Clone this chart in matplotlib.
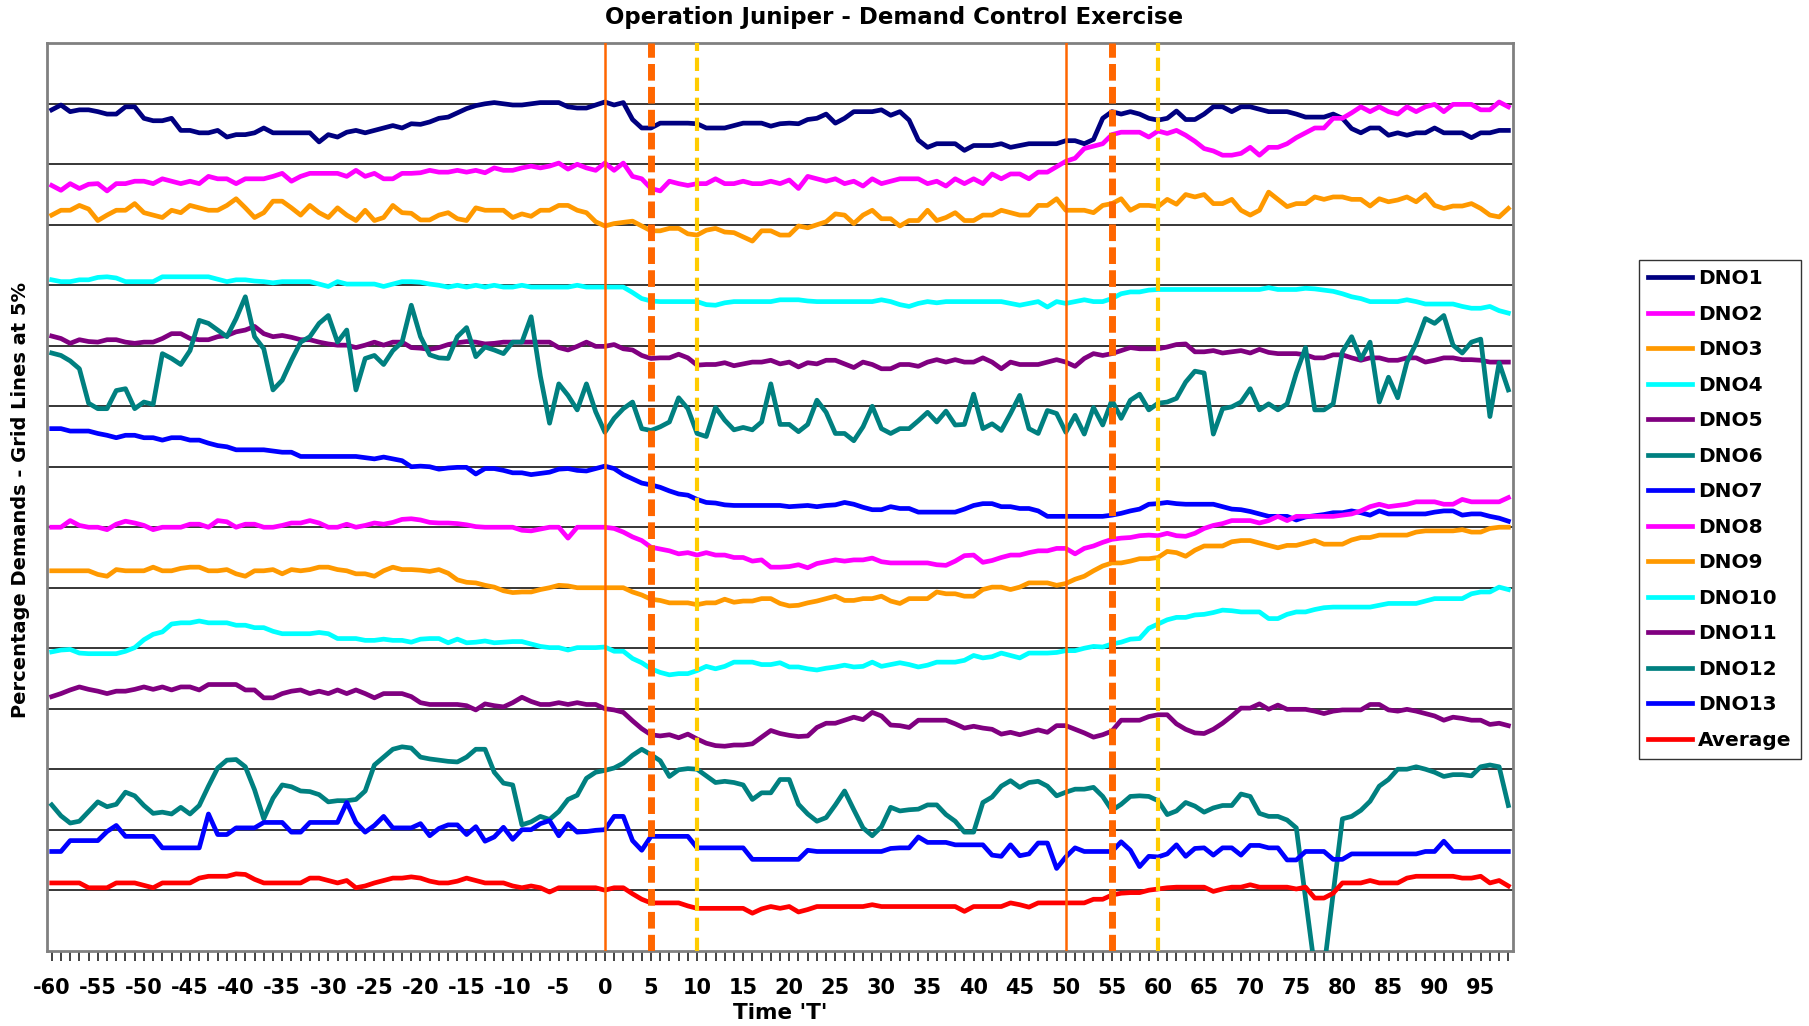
import matplotlib
matplotlib.use('Agg')
import matplotlib.pyplot as plt
import numpy as np

plt.rcParams['font.family'] = ['DejaVu Sans']

# time axis, minutes relative to T
time_t = np.arange(-60, 99)

# demand traces in grid units (1 unit = 5%)
dno1 = [13.9, 13.98, 13.87, 13.9, 13.9, 13.87, 13.83, 13.83, 13.95, 13.95,
        13.76, 13.72, 13.72, 13.76, 13.56, 13.56, 13.52, 13.52, 13.56, 13.45,
        13.49, 13.49, 13.52, 13.6, 13.52, 13.52, 13.52, 13.52, 13.52, 13.37,
        13.49, 13.45, 13.53, 13.56, 13.52, 13.56, 13.6, 13.64, 13.6, 13.67,
        13.66, 13.7, 13.76, 13.78, 13.85, 13.92, 13.97, 14.0, 14.02, 14.0,
        13.98, 13.98, 14.0, 14.02, 14.02, 14.02, 13.95, 13.93, 13.93, 13.98,
        14.03, 13.98, 14.02, 13.74, 13.6, 13.6, 13.68, 13.68, 13.68, 13.68,
        13.67, 13.6, 13.6, 13.6, 13.64, 13.68, 13.68, 13.68, 13.63, 13.67,
        13.68, 13.67, 13.74, 13.76, 13.83, 13.68, 13.76, 13.87, 13.87, 13.87,
        13.9, 13.81, 13.87, 13.73, 13.4, 13.28, 13.34, 13.34, 13.34, 13.23,
        13.31, 13.31, 13.31, 13.34, 13.28, 13.31, 13.34, 13.34, 13.34, 13.34,
        13.39, 13.39, 13.34, 13.41, 13.76, 13.87, 13.83, 13.87, 13.83, 13.76,
        13.73, 13.76, 13.88, 13.74, 13.74, 13.83, 13.95, 13.95, 13.87, 13.95,
        13.95, 13.91, 13.87, 13.87, 13.87, 13.83, 13.78, 13.78, 13.78, 13.83,
        13.76, 13.59, 13.52, 13.6, 13.6, 13.48, 13.52, 13.48, 13.52, 13.52,
        13.6, 13.52, 13.52, 13.52, 13.44, 13.52, 13.52, 13.56, 13.56]
dno2 = [12.65, 12.57, 12.68, 12.6, 12.67, 12.68, 12.56, 12.68, 12.68, 12.72,
        12.72, 12.68, 12.76, 12.72, 12.68, 12.72, 12.68, 12.8, 12.76, 12.76,
        12.68, 12.76, 12.76, 12.76, 12.8, 12.85, 12.72, 12.8, 12.85, 12.85,
        12.85, 12.85, 12.8, 12.9, 12.8, 12.85, 12.76, 12.76, 12.85, 12.85,
        12.86, 12.9, 12.87, 12.87, 12.9, 12.87, 12.9, 12.86, 12.94, 12.9,
        12.9, 12.94, 12.97, 12.94, 12.97, 13.02, 12.92, 13.0, 12.94, 12.9,
        13.02, 12.9, 13.02, 12.8, 12.76, 12.6, 12.56, 12.72, 12.68, 12.65,
        12.68, 12.68, 12.76, 12.68, 12.68, 12.72, 12.68, 12.68, 12.72, 12.68,
        12.74, 12.6, 12.8, 12.76, 12.72, 12.76, 12.68, 12.72, 12.64, 12.76,
        12.68, 12.72, 12.76, 12.76, 12.76, 12.68, 12.72, 12.64, 12.76, 12.68,
        12.76, 12.68, 12.84, 12.76, 12.84, 12.84, 12.76, 12.87, 12.87, 12.96,
        13.05, 13.1, 13.26, 13.3, 13.34, 13.49, 13.53, 13.53, 13.53, 13.45,
        13.55, 13.51, 13.56, 13.48, 13.38, 13.26, 13.22, 13.15, 13.15, 13.18,
        13.28, 13.15, 13.28, 13.28, 13.34, 13.44, 13.52, 13.6, 13.6, 13.76,
        13.76, 13.85, 13.95, 13.87, 13.95, 13.87, 13.83, 13.95, 13.87, 13.95,
        13.99, 13.87, 13.99, 13.99, 13.99, 13.9, 13.9, 14.03, 13.95]
dno3 = [12.16, 12.24, 12.24, 12.32, 12.26, 12.07, 12.16, 12.24, 12.24, 12.35,
        12.2, 12.16, 12.12, 12.24, 12.2, 12.32, 12.28, 12.24, 12.24, 12.32,
        12.43, 12.28, 12.12, 12.2, 12.39, 12.39, 12.28, 12.16, 12.32, 12.2,
        12.12, 12.28, 12.16, 12.07, 12.24, 12.07, 12.12, 12.32, 12.2, 12.19,
        12.08, 12.08, 12.16, 12.2, 12.1, 12.07, 12.28, 12.24, 12.24, 12.24,
        12.12, 12.18, 12.14, 12.24, 12.24, 12.32, 12.32, 12.24, 12.2, 12.05,
        11.98, 12.02, 12.04, 12.06, 11.98, 11.9, 11.9, 11.94, 11.94, 11.85,
        11.83, 11.91, 11.94, 11.88, 11.87, 11.8, 11.73, 11.9, 11.9, 11.83,
        11.83, 11.98, 11.95, 12.0, 12.05, 12.18, 12.16, 12.02, 12.16, 12.24,
        12.1, 12.1, 11.98, 12.07, 12.07, 12.24, 12.07, 12.12, 12.2, 12.07,
        12.07, 12.16, 12.16, 12.24, 12.2, 12.16, 12.16, 12.32, 12.32, 12.43,
        12.24, 12.24, 12.24, 12.2, 12.32, 12.35, 12.43, 12.24, 12.32, 12.32,
        12.3, 12.42, 12.34, 12.5, 12.46, 12.5, 12.35, 12.35, 12.42, 12.24,
        12.16, 12.24, 12.54, 12.42, 12.3, 12.35, 12.35, 12.46, 12.42, 12.46,
        12.46, 12.42, 12.42, 12.31, 12.43, 12.38, 12.41, 12.46, 12.38, 12.5,
        12.32, 12.27, 12.31, 12.31, 12.35, 12.27, 12.16, 12.13, 12.27]
dno4 = [11.09, 11.06, 11.06, 11.09, 11.09, 11.13, 11.14, 11.12, 11.06, 11.06,
        11.06, 11.06, 11.14, 11.14, 11.14, 11.14, 11.14, 11.14, 11.1, 11.06,
        11.09, 11.09, 11.07, 11.06, 11.04, 11.06, 11.06, 11.06, 11.06, 11.02,
        10.98, 11.06, 11.02, 11.02, 11.02, 11.02, 10.98, 11.02, 11.06, 11.06,
        11.05, 11.02, 11.0, 10.97, 11.0, 10.97, 11.0, 10.97, 11.0, 10.97,
        10.97, 11.0, 10.97, 10.97, 10.97, 10.97, 10.97, 11.0, 10.97, 10.97,
        10.97, 10.97, 10.97, 10.88, 10.78, 10.74, 10.73, 10.73, 10.73, 10.73,
        10.73, 10.68, 10.67, 10.71, 10.73, 10.73, 10.73, 10.73, 10.73, 10.76,
        10.76, 10.76, 10.74, 10.73, 10.73, 10.73, 10.73, 10.73, 10.73, 10.73,
        10.76, 10.73, 10.68, 10.65, 10.7, 10.73, 10.71, 10.73, 10.73, 10.73,
        10.73, 10.73, 10.73, 10.73, 10.7, 10.67, 10.7, 10.73, 10.64, 10.73,
        10.7, 10.73, 10.76, 10.73, 10.73, 10.78, 10.86, 10.89, 10.89, 10.92,
        10.93, 10.93, 10.93, 10.93, 10.93, 10.93, 10.93, 10.93, 10.93, 10.93,
        10.93, 10.93, 10.96, 10.93, 10.93, 10.93, 10.95, 10.94, 10.92, 10.9,
        10.86, 10.81, 10.78, 10.73, 10.73, 10.73, 10.73, 10.76, 10.73, 10.69,
        10.69, 10.69, 10.69, 10.65, 10.62, 10.62, 10.65, 10.58, 10.54]
dno5 = [10.16, 10.12, 10.04, 10.1, 10.07, 10.06, 10.1, 10.1, 10.06, 10.04,
        10.06, 10.06, 10.12, 10.2, 10.2, 10.12, 10.1, 10.1, 10.15, 10.17,
        10.23, 10.26, 10.32, 10.2, 10.15, 10.17, 10.14, 10.1, 10.1, 10.06,
        10.03, 10.01, 10.01, 9.97, 10.01, 10.06, 10.01, 10.06, 10.06, 9.97,
        9.96, 9.94, 9.97, 10.02, 10.05, 10.07, 10.06, 10.03, 10.04, 10.06,
        10.06, 10.06, 10.06, 10.06, 10.06, 9.97, 9.93, 9.99, 10.06, 9.99,
        9.99, 10.02, 9.95, 9.93, 9.84, 9.79, 9.8, 9.8, 9.86, 9.8,
        9.68, 9.69, 9.69, 9.72, 9.67, 9.7, 9.73, 9.73, 9.76, 9.7,
        9.73, 9.65, 9.72, 9.7, 9.76, 9.76, 9.7, 9.64, 9.73, 9.69,
        9.62, 9.62, 9.69, 9.69, 9.66, 9.73, 9.77, 9.73, 9.77, 9.73,
        9.73, 9.8, 9.73, 9.62, 9.73, 9.69, 9.69, 9.69, 9.73, 9.77,
        9.73, 9.66, 9.79, 9.87, 9.84, 9.87, 9.92, 9.97, 9.95, 9.95,
        9.95, 9.98, 10.02, 10.03, 9.9, 9.9, 9.92, 9.88, 9.9, 9.92,
        9.88, 9.94, 9.89, 9.87, 9.87, 9.87, 9.85, 9.8, 9.8, 9.85,
        9.85, 9.8, 9.76, 9.8, 9.8, 9.76, 9.76, 9.8, 9.8, 9.73,
        9.76, 9.8, 9.8, 9.77, 9.77, 9.76, 9.73, 9.73, 9.73]
dno6 = [9.88, 9.84, 9.75, 9.62, 9.05, 8.96, 8.96, 9.26, 9.29, 8.96,
        9.07, 9.03, 9.87, 9.79, 9.69, 9.92, 10.42, 10.37, 10.26, 10.15,
        10.45, 10.81, 10.15, 9.95, 9.27, 9.43, 9.76, 10.06, 10.15, 10.37,
        10.5, 10.06, 10.26, 9.27, 9.79, 9.84, 9.69, 9.92, 10.06, 10.67,
        10.15, 9.85, 9.8, 9.79, 10.15, 10.3, 9.82, 9.98, 9.93, 9.87,
        10.06, 10.06, 10.48, 9.5, 8.72, 9.37, 9.18, 8.94, 9.37, 8.91,
        8.57, 8.8, 8.96, 9.07, 8.63, 8.6, 8.66, 8.74, 9.14, 8.96,
        8.55, 8.5, 8.98, 8.77, 8.61, 8.65, 8.61, 8.74, 9.37, 8.7,
        8.7, 8.58, 8.7, 9.1, 8.9, 8.55, 8.55, 8.43, 8.66, 9.0,
        8.63, 8.55, 8.63, 8.63, 8.76, 8.9, 8.74, 8.92, 8.69, 8.7,
        9.2, 8.63, 8.71, 8.6, 8.88, 9.18, 8.63, 8.55, 8.93, 8.88,
        8.57, 8.85, 8.54, 8.98, 8.69, 9.1, 8.8, 9.1, 9.2, 8.94,
        9.05, 9.07, 9.13, 9.4, 9.58, 9.55, 8.54, 8.96, 8.99, 9.07,
        9.29, 8.94, 9.04, 8.94, 9.04, 9.55, 9.97, 8.94, 8.94, 9.04,
        9.9, 10.15, 9.78, 10.06, 9.07, 9.48, 9.14, 9.73, 10.04, 10.45,
        10.37, 10.5, 10.01, 9.88, 10.06, 10.11, 8.83, 9.72, 9.27]
dno7 = [8.63, 8.63, 8.59, 8.59, 8.59, 8.55, 8.52, 8.48, 8.52, 8.52,
        8.48, 8.48, 8.44, 8.48, 8.48, 8.44, 8.44, 8.39, 8.35, 8.33,
        8.28, 8.28, 8.28, 8.28, 8.26, 8.24, 8.24, 8.17, 8.17, 8.17,
        8.17, 8.17, 8.17, 8.17, 8.15, 8.13, 8.16, 8.13, 8.1, 8.0,
        8.01, 8.0, 7.96, 7.98, 7.99, 7.99, 7.88, 7.97, 7.97, 7.94,
        7.9, 7.9, 7.87, 7.89, 7.91, 7.96, 7.97, 7.94, 7.93, 7.97,
        8.01, 7.97, 7.87, 7.8, 7.73, 7.7, 7.66, 7.6, 7.55, 7.53,
        7.46, 7.41, 7.4, 7.37, 7.36, 7.36, 7.36, 7.36, 7.36, 7.36,
        7.34, 7.35, 7.36, 7.34, 7.36, 7.37, 7.41, 7.38, 7.33, 7.29,
        7.29, 7.34, 7.31, 7.31, 7.25, 7.25, 7.25, 7.25, 7.25, 7.3,
        7.36, 7.39, 7.39, 7.34, 7.34, 7.31, 7.31, 7.27, 7.18, 7.18,
        7.18, 7.18, 7.18, 7.18, 7.18, 7.2, 7.23, 7.27, 7.3, 7.38,
        7.39, 7.41, 7.39, 7.38, 7.38, 7.38, 7.38, 7.34, 7.3, 7.29,
        7.26, 7.22, 7.18, 7.18, 7.18, 7.12, 7.17, 7.19, 7.21, 7.24,
        7.24, 7.27, 7.24, 7.2, 7.27, 7.22, 7.22, 7.22, 7.22, 7.22,
        7.25, 7.27, 7.27, 7.2, 7.22, 7.22, 7.18, 7.15, 7.1]
dno8 = [7.0, 7.0, 7.11, 7.03, 7.0, 7.0, 6.96, 7.05, 7.1, 7.07,
        7.03, 6.96, 7.0, 7.0, 7.0, 7.05, 7.05, 7.0, 7.11, 7.09,
        7.0, 7.05, 7.05, 7.0, 7.0, 7.03, 7.07, 7.07, 7.11, 7.07,
        7.0, 7.0, 7.05, 7.0, 7.03, 7.07, 7.05, 7.08, 7.13, 7.14,
        7.12, 7.08, 7.07, 7.07, 7.06, 7.04, 7.01, 7.0, 7.0, 7.0,
        7.0, 6.95, 6.94, 6.97, 7.0, 7.0, 6.82, 7.0, 7.0, 7.0,
        7.0, 6.98, 6.92, 6.84, 6.78, 6.67, 6.64, 6.61, 6.56, 6.58,
        6.54, 6.58, 6.54, 6.54, 6.5, 6.5, 6.44, 6.46, 6.34, 6.34,
        6.35, 6.38, 6.33, 6.4, 6.43, 6.46, 6.44, 6.46, 6.46, 6.49,
        6.43, 6.41, 6.41, 6.41, 6.41, 6.41, 6.38, 6.37, 6.44, 6.53,
        6.54, 6.42, 6.45, 6.5, 6.54, 6.54, 6.58, 6.61, 6.61, 6.65,
        6.65, 6.56, 6.65, 6.69, 6.75, 6.8, 6.82, 6.83, 6.86, 6.87,
        6.86, 6.9, 6.86, 6.85, 6.9, 6.98, 7.03, 7.06, 7.11, 7.11,
        7.11, 7.07, 7.11, 7.18, 7.11, 7.18, 7.18, 7.18, 7.18, 7.18,
        7.2, 7.22, 7.27, 7.34, 7.38, 7.34, 7.36, 7.38, 7.42, 7.42,
        7.42, 7.38, 7.38, 7.46, 7.42, 7.42, 7.42, 7.42, 7.49]
dno9 = [6.28, 6.28, 6.28, 6.28, 6.28, 6.22, 6.19, 6.3, 6.28, 6.28,
        6.28, 6.34, 6.28, 6.28, 6.32, 6.34, 6.34, 6.28, 6.28, 6.3,
        6.23, 6.19, 6.28, 6.28, 6.3, 6.23, 6.3, 6.28, 6.3, 6.34,
        6.34, 6.3, 6.28, 6.23, 6.23, 6.19, 6.28, 6.34, 6.3, 6.3,
        6.29, 6.27, 6.3, 6.24, 6.13, 6.09, 6.08, 6.04, 6.01, 5.95,
        5.92, 5.93, 5.93, 5.97, 6.0, 6.04, 6.03, 6.0, 6.0, 6.0,
        6.0, 6.0, 6.0, 5.93, 5.88, 5.81, 5.79, 5.75, 5.75, 5.75,
        5.72, 5.75, 5.75, 5.81, 5.76, 5.78, 5.78, 5.82, 5.82, 5.74,
        5.7, 5.71, 5.75, 5.78, 5.82, 5.86, 5.79, 5.79, 5.82, 5.82,
        5.86, 5.78, 5.74, 5.82, 5.82, 5.82, 5.93, 5.9, 5.9, 5.86,
        5.86, 5.97, 6.01, 6.01, 5.97, 6.01, 6.08, 6.08, 6.08, 6.04,
        6.07, 6.14, 6.19, 6.28, 6.36, 6.41, 6.41, 6.44, 6.48, 6.48,
        6.5, 6.6, 6.58, 6.52, 6.62, 6.69, 6.69, 6.69, 6.76, 6.78,
        6.78, 6.74, 6.7, 6.66, 6.7, 6.7, 6.74, 6.78, 6.72, 6.72,
        6.72, 6.79, 6.83, 6.83, 6.87, 6.87, 6.87, 6.87, 6.92, 6.94,
        6.94, 6.94, 6.94, 6.96, 6.92, 6.92, 6.98, 7.0, 7.0]
dno10 = [4.94, 4.97, 4.98, 4.92, 4.91, 4.91, 4.91, 4.91, 4.95, 5.01,
         5.14, 5.23, 5.27, 5.4, 5.42, 5.42, 5.45, 5.42, 5.42, 5.42,
         5.38, 5.38, 5.34, 5.34, 5.28, 5.24, 5.24, 5.24, 5.24, 5.26,
         5.24, 5.16, 5.16, 5.16, 5.13, 5.13, 5.15, 5.13, 5.13, 5.1,
         5.15, 5.16, 5.16, 5.09, 5.15, 5.09, 5.1, 5.12, 5.09, 5.1,
         5.11, 5.11, 5.07, 5.03, 5.01, 5.01, 4.97, 5.01, 5.01, 5.01,
         5.02, 4.95, 4.95, 4.83, 4.76, 4.66, 4.6, 4.56, 4.58, 4.58,
         4.63, 4.7, 4.66, 4.7, 4.77, 4.77, 4.77, 4.73, 4.73, 4.76,
         4.69, 4.69, 4.66, 4.64, 4.67, 4.69, 4.72, 4.69, 4.7, 4.77,
         4.7, 4.73, 4.76, 4.73, 4.69, 4.72, 4.77, 4.77, 4.77, 4.8,
         4.88, 4.84, 4.86, 4.92, 4.88, 4.84, 4.92, 4.92, 4.92, 4.93,
         4.96, 4.96, 5.0, 5.03, 5.02, 5.07, 5.1, 5.15, 5.16, 5.33,
         5.4, 5.47, 5.51, 5.51, 5.55, 5.56, 5.59, 5.63, 5.62, 5.6,
         5.6, 5.6, 5.49, 5.49, 5.56, 5.6, 5.6, 5.64, 5.67, 5.68,
         5.68, 5.68, 5.68, 5.68, 5.71, 5.74, 5.74, 5.74, 5.74, 5.78,
         5.82, 5.82, 5.82, 5.82, 5.9, 5.93, 5.93, 6.01, 5.97]
dno11 = [4.2, 4.25, 4.31, 4.36, 4.32, 4.29, 4.25, 4.29, 4.29, 4.32,
         4.36, 4.32, 4.36, 4.31, 4.36, 4.36, 4.31, 4.4, 4.4, 4.4,
         4.4, 4.31, 4.31, 4.18, 4.18, 4.25, 4.29, 4.31, 4.25, 4.29,
         4.25, 4.31, 4.25, 4.31, 4.25, 4.18, 4.25, 4.25, 4.25, 4.2,
         4.1, 4.07, 4.07, 4.07, 4.07, 4.05, 3.98, 4.08, 4.05, 4.03,
         4.1, 4.19, 4.12, 4.07, 4.07, 4.1, 4.07, 4.1, 4.07, 4.07,
         4.0, 3.98, 3.94, 3.8, 3.67, 3.57, 3.55, 3.57, 3.52, 3.58,
         3.5, 3.43, 3.39, 3.38, 3.4, 3.4, 3.42, 3.53, 3.64, 3.59,
         3.56, 3.54, 3.55, 3.69, 3.76, 3.76, 3.81, 3.86, 3.82, 3.94,
         3.88, 3.73, 3.72, 3.69, 3.81, 3.81, 3.81, 3.81, 3.75, 3.68,
         3.71, 3.68, 3.66, 3.58, 3.61, 3.57, 3.61, 3.65, 3.61, 3.72,
         3.72, 3.66, 3.6, 3.53, 3.57, 3.63, 3.81, 3.81, 3.81, 3.87,
         3.9, 3.9, 3.75, 3.66, 3.6, 3.59, 3.66, 3.76, 3.88, 4.01,
         4.01, 4.08, 3.99, 4.06, 3.99, 3.99, 3.99, 3.96, 3.92, 3.96,
         3.98, 3.98, 3.98, 4.07, 4.07, 3.98, 3.96, 3.99, 3.96, 3.92,
         3.88, 3.81, 3.86, 3.84, 3.81, 3.81, 3.74, 3.76, 3.72]
dno12 = [2.41, 2.23, 2.11, 2.14, 2.3, 2.46, 2.38, 2.42, 2.62, 2.56,
         2.4, 2.27, 2.29, 2.26, 2.37, 2.26, 2.4, 2.72, 3.02, 3.15,
         3.16, 3.04, 2.66, 2.18, 2.52, 2.74, 2.71, 2.64, 2.63, 2.58,
         2.46, 2.48, 2.48, 2.5, 2.64, 3.07, 3.2, 3.33, 3.37, 3.35,
         3.2, 3.17, 3.15, 3.13, 3.12, 3.2, 3.33, 3.33, 2.95, 2.77,
         2.74, 2.08, 2.13, 2.22, 2.17, 2.3, 2.5, 2.57, 2.85, 2.95,
         2.98, 3.02, 3.1, 3.23, 3.33, 3.24, 3.14, 2.88, 2.99, 3.01,
         3.0, 2.89, 2.78, 2.8, 2.78, 2.74, 2.5, 2.61, 2.61, 2.83,
         2.83, 2.42, 2.26, 2.14, 2.2, 2.41, 2.64, 2.33, 2.03, 1.9,
         2.05, 2.37, 2.31, 2.33, 2.34, 2.41, 2.41, 2.25, 2.14, 1.96,
         1.96, 2.45, 2.54, 2.72, 2.81, 2.7, 2.78, 2.8, 2.72, 2.56,
         2.62, 2.67, 2.67, 2.7, 2.55, 2.32, 2.42, 2.55, 2.56, 2.55,
         2.48, 2.25, 2.31, 2.45, 2.39, 2.29, 2.36, 2.4, 2.4, 2.59,
         2.55, 2.27, 2.22, 2.22, 2.16, 2.03, 0.86, -0.3, -0.3, 0.95,
         2.18, 2.22, 2.32, 2.47, 2.72, 2.83, 3.0, 3.0, 3.04, 3.0,
         2.95, 2.88, 2.91, 2.91, 2.89, 3.04, 3.07, 3.04, 2.4]
dno13 = [1.64, 1.64, 1.82, 1.82, 1.82, 1.82, 1.97, 2.07, 1.89, 1.89,
         1.89, 1.89, 1.7, 1.7, 1.7, 1.7, 1.7, 2.26, 1.92, 1.92,
         2.03, 2.03, 2.03, 2.12, 2.12, 2.12, 1.96, 1.96, 2.12, 2.12,
         2.12, 2.12, 2.45, 2.12, 1.96, 2.07, 2.22, 2.03, 2.03, 2.03,
         2.1, 1.9, 2.02, 2.08, 2.08, 1.92, 2.05, 1.81, 1.88, 2.04,
         1.84, 2.0, 2.0, 2.1, 2.15, 1.9, 2.1, 1.96, 1.97, 1.99,
         2.0, 2.22, 2.22, 1.82, 1.66, 1.89, 1.89, 1.89, 1.89, 1.89,
         1.7, 1.7, 1.7, 1.7, 1.7, 1.7, 1.51, 1.51, 1.51, 1.51,
         1.51, 1.51, 1.66, 1.64, 1.64, 1.64, 1.64, 1.64, 1.64, 1.64,
         1.64, 1.69, 1.7, 1.7, 1.88, 1.79, 1.79, 1.79, 1.75, 1.75,
         1.75, 1.75, 1.58, 1.56, 1.75, 1.57, 1.6, 1.78, 1.78, 1.36,
         1.55, 1.7, 1.64, 1.64, 1.64, 1.64, 1.8, 1.66, 1.39, 1.56,
         1.55, 1.6, 1.75, 1.56, 1.69, 1.7, 1.58, 1.7, 1.7, 1.58,
         1.74, 1.74, 1.7, 1.7, 1.5, 1.5, 1.64, 1.64, 1.64, 1.51,
         1.51, 1.6, 1.6, 1.6, 1.6, 1.6, 1.6, 1.6, 1.6, 1.64,
         1.64, 1.81, 1.64, 1.64, 1.64, 1.64, 1.64, 1.64, 1.64]
average = [1.12, 1.12, 1.12, 1.12, 1.04, 1.04, 1.04, 1.12, 1.12, 1.12,
           1.08, 1.04, 1.12, 1.12, 1.12, 1.12, 1.2, 1.23, 1.23, 1.23,
           1.27, 1.26, 1.18, 1.12, 1.12, 1.12, 1.12, 1.12, 1.2, 1.2,
           1.16, 1.12, 1.16, 1.04, 1.07, 1.12, 1.16, 1.2, 1.2, 1.22,
           1.2, 1.15, 1.12, 1.12, 1.15, 1.2, 1.16, 1.12, 1.12, 1.12,
           1.07, 1.04, 1.07, 1.04, 0.97, 1.04, 1.04, 1.04, 1.04, 1.04,
           1.0, 1.04, 1.04, 0.94, 0.85, 0.79, 0.79, 0.79, 0.79, 0.74,
           0.7, 0.7, 0.7, 0.7, 0.7, 0.7, 0.62, 0.69, 0.73, 0.7,
           0.73, 0.64, 0.68, 0.73, 0.73, 0.73, 0.73, 0.73, 0.73, 0.76,
           0.73, 0.73, 0.73, 0.73, 0.73, 0.73, 0.73, 0.73, 0.73, 0.65,
           0.73, 0.73, 0.73, 0.73, 0.79, 0.76, 0.72, 0.79, 0.79, 0.79,
           0.79, 0.79, 0.79, 0.85, 0.85, 0.92, 0.95, 0.96, 0.96, 1.0,
           1.02, 1.04, 1.05, 1.05, 1.05, 1.05, 0.98, 1.02, 1.05, 1.05,
           1.09, 1.05, 1.05, 1.05, 1.05, 1.02, 1.05, 0.87, 0.87, 0.95,
           1.12, 1.12, 1.12, 1.16, 1.12, 1.12, 1.12, 1.2, 1.23, 1.23,
           1.23, 1.23, 1.23, 1.2, 1.2, 1.23, 1.12, 1.16, 1.07]

series_names = ['DNO1', 'DNO2', 'DNO3', 'DNO4', 'DNO5', 'DNO6', 'DNO7',
                'DNO8', 'DNO9', 'DNO10', 'DNO11', 'DNO12', 'DNO13', 'Average']
series_values = [dno1, dno2, dno3, dno4, dno5, dno6, dno7,
                 dno8, dno9, dno10, dno11, dno12, dno13, average]
series_colors = ['#000080', '#FF00FF', '#FF9900', '#00FFFF', '#800080',
                 '#008080', '#0000FF', '#FF00FF', '#FF9900', '#00FFFF',
                 '#800080', '#008080', '#0000FF', '#FF0000']

# exercise event times
event_start = [0, 50]
event_step = [5, 55]
event_end = [10, 60]

tick_labels = [str(v) for v in range(-60, 99, 5)]

fig = plt.figure(figsize=(18.09, 10.26), dpi=100)
ax = fig.add_axes([0.02615, 0.0734, 0.8101, 0.8844])

handles = []
for vals, name, col in zip(series_values, series_names, series_colors):
    h, = ax.plot(time_t, vals, color=col, lw=3.4, label=name, zorder=3)
    handles.append(h)

for t in event_start:
    ax.axvline(t, color='#FF6600', lw=1.8, zorder=4)
for t in event_step:
    ax.axvline(t, color='#FF6600', lw=5, dashes=(2.4, 0.9), zorder=4)
for t in event_end:
    ax.axvline(t, color='#FFCC00', lw=3, dashes=(3.2, 1.6), zorder=4)

ax.set_ylim(0, 15)
ax.set_xlim(-60.48, 98.48)
ax.set_yticks(np.arange(1, 15))
ax.yaxis.grid(True, color='black', lw=1.1)
ax.set_axisbelow(True)
ax.tick_params(axis='y', length=0, labelleft=False)

ax.set_xticks(np.arange(-60, 99, 5))
ax.set_xticklabels(tick_labels, fontsize=15, fontweight='bold')
ax.set_xticks(np.arange(-60, 99, 1), minor=True)
ax.tick_params(axis='x', which='both', direction='out', length=7, width=1.3,
               color='#333333', pad=13)

for sp in ax.spines.values():
    sp.set_color('#808080')
    sp.set_linewidth(2)

fig.text(0.494, 0.983, 'Operation Juniper - Demand Control Exercise',
         ha='center', va='center', fontsize=16.5, fontweight='bold')
fig.text(0.4315, 0.0125, "Time 'T'", ha='center', va='center',
         fontsize=15.5, fontweight='bold')
fig.text(0.0115, 0.513, 'Percentage Demands - Grid Lines at 5%', rotation=90,
         ha='center', va='center', fontsize=14, fontweight='bold')

leg = fig.legend(handles=handles, loc='upper left',
                 bbox_to_anchor=(0.906, 0.7466), frameon=True, fancybox=False,
                 edgecolor='black', prop={'weight': 'bold', 'size': 14.5},
                 handlelength=2.2, handletextpad=0.3, labelspacing=0.82,
                 borderpad=0.45, borderaxespad=0)
leg.get_frame().set_linewidth(1.0)

fig.savefig('out.png', dpi=100)
